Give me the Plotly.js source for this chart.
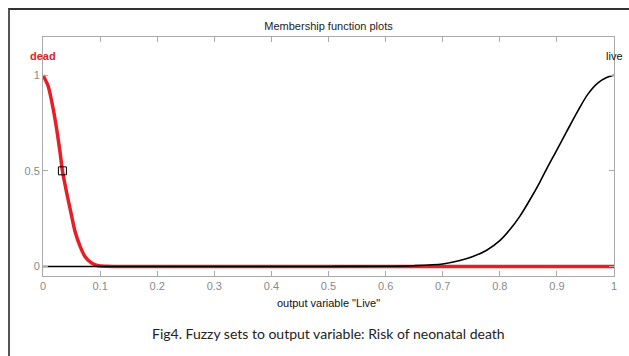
<!DOCTYPE html>
<html>
<head>
<meta charset="utf-8">
<script src="https://cdn.plot.ly/plotly-3.0.1.min.js"></script>
<style>
html,body{margin:0;padding:0;background:#fff;}
#wrap{position:relative;width:629px;height:356px;overflow:hidden;}
#chart{position:absolute;left:0;top:0;width:629px;height:356px;}
#frame{position:absolute;left:8px;top:8px;width:640px;height:360px;border-top:2px solid #333;border-left:2px solid #555;pointer-events:none;}
</style>
</head>
<body>
<div id="wrap"><div id="chart"></div><div id="frame"></div></div>
<script>
// membership function "dead"
const deadX = [0, 0.009, 0.018, 0.024, 0.030, 0.034, 0.0415, 0.049, 0.056, 0.065, 0.0735, 0.085, 0.097, 0.11, 0.13, 1.0];
const deadY = [1, 0.944, 0.822, 0.717, 0.595, 0.5, 0.385, 0.28, 0.184, 0.105, 0.052, 0.018, 0.004, 0.001, 0, 0];
// membership function "live"
const liveX = [0, 0.5, 0.6, 0.65, 0.7, 0.73, 0.753, 0.777, 0.8, 0.817, 0.835, 0.852, 0.87, 0.883, 0.9, 0.917, 0.937, 0.954, 0.972, 0.987, 1.0];
const liveY = [0, 0, 0.001, 0.004, 0.013, 0.031, 0.052, 0.085, 0.135, 0.19, 0.262, 0.345, 0.44, 0.516, 0.61, 0.705, 0.815, 0.9, 0.96, 0.988, 1.0];
// selected-MF marker
const markX = [0.034];
const markY = [0.5];
const mfNames = ['dead', 'live'];
const mfLabelX = [0, 1];
const xTicks = [0, 0.1, 0.2, 0.3, 0.4, 0.5, 0.6, 0.7, 0.8, 0.9, 1];
const yTicks = [0, 0.5, 1];

const red = 'rgb(228,32,38)';
const traces = [
  {x: deadX, y: deadY, type: 'scatter', mode: 'lines', line: {color: red, width: 3.5, shape: 'spline', smoothing: 0.7}, hoverinfo: 'skip'},
  {x: liveX, y: liveY, type: 'scatter', mode: 'lines', line: {color: '#000', width: 1.6, shape: 'spline', smoothing: 0.8}, hoverinfo: 'skip'},
  {x: markX, y: markY, type: 'scatter', mode: 'markers', marker: {symbol: 'square-open', size: 8, color: '#000', line: {width: 1, color: '#000'}}, hoverinfo: 'skip'}
];

const font = 'Liberation Sans, Arial, sans-serif';
const layout = {
  width: 629, height: 356,
  margin: {l: 43, r: 15, t: 37, b: 80},
  paper_bgcolor: '#fff', plot_bgcolor: '#fff',
  showlegend: false,
  font: {family: font, size: 11, color: '#808080'},
  title: {text: 'Membership function plots', font: {family: font, size: 11, color: '#222'}, x: 0.5, xref: 'paper', y: 1, yref: 'container', yanchor: 'top', pad: {t: 22}},
  xaxis: {
    range: [0, 1], tickvals: xTicks, ticks: 'inside', ticklen: 5, tickcolor: '#aaa',
    showline: true, linecolor: '#aaa', linewidth: 1, mirror: 'ticks', showgrid: false, zeroline: false,
    tickfont: {family: font, size: 11, color: '#888'},
    title: {text: 'output variable "Live"', font: {family: font, size: 11, color: '#111'}, standoff: 8}
  },
  yaxis: {
    range: [-0.05, 1.2], tickvals: yTicks, ticks: 'inside', ticklen: 5, tickcolor: '#aaa',
    showline: true, linecolor: '#aaa', linewidth: 1, mirror: 'ticks', showgrid: false, zeroline: false,
    tickfont: {family: font, size: 11, color: '#888'}
  },
  annotations: [
    {x: mfLabelX[0], y: 1.1, xref: 'x', yref: 'y', text: '<b>' + mfNames[0] + '</b>', showarrow: false, font: {family: font, size: 11, color: red}, xanchor: 'center', yanchor: 'middle'},
    {x: mfLabelX[1], y: 1.1, xref: 'x', yref: 'y', text: mfNames[1], showarrow: false, font: {family: font, size: 11, color: '#111'}, xanchor: 'center', yanchor: 'middle'},
    {x: 0.5, y: 0, xref: 'paper', yref: 'paper', text: 'Fig4. Fuzzy sets to output variable: Risk of neonatal death', showarrow: false, font: {family: 'Lato, Open Sans, sans-serif', size: 14, color: '#222'}, xanchor: 'center', yanchor: 'middle'}
  ]
};
// place caption at pixel y=333 (paper y from plot area)
const plotH = 356 - 37 - 80;
layout.annotations[2].y = (356 - 80 - 333) / plotH;
Plotly.newPlot('chart', traces, layout, {displayModeBar: false, staticPlot: true});
</script>
</body>
</html>
